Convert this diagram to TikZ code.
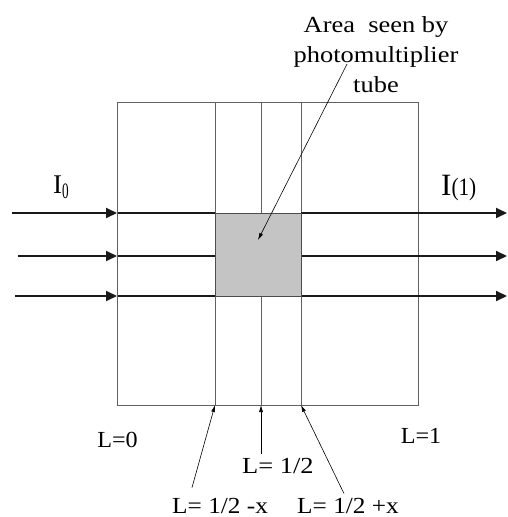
\documentclass[tikz,border=0pt]{standalone}
\usepackage{fontspec}
\usepackage{graphicx}
\setmainfont{Liberation Serif}
\usetikzlibrary{arrows.meta, positioning, calc}
\newcommand{\wide}[1]{\scalebox{1.15}[1]{#1}}
\tikzset{
  wall/.style={draw=black!62, line width=0.9pt},
  beam/.style={draw=black!90, line width=2pt},
  beamtip/.style={beam, -{Triangle[length=11pt, width=10pt]}},
  spot/.style={rectangle, draw=black!70, line width=0.9pt, fill=black!23,
               minimum width=86pt, minimum height=83pt, inner sep=0pt},
  ptr/.style={-{Latex[length=7pt, width=4pt]}, line width=0.6pt},
  lbl/.style={font=\fontsize{23}{30}\selectfont, inner sep=0pt}
}

\begin{document}
\begin{tikzpicture}[x=1pt, y=-1pt]
\useasboundingbox (0,0) rectangle (508,517);
% sample and the slices at 1/2-x, 1/2, 1/2+x
\draw[wall] (117,102) rectangle (418,405);
\foreach \xs/\nm in {215/lo, 261/mid, 301/hi}
  \draw[wall] (\xs,102) -- (\xs,405) coordinate (\nm);
% light beams
\foreach \ys/\xa in {213/12, 256/18, 296/15}{
  \draw[beamtip] (\xa,\ys) -- (117,\ys);
  \draw[beam] (118,\ys) -- (215,\ys);
  \draw[beamtip] (301,\ys) -- (507,\ys);
}
\node[spot] (pmt) at (258,254.5) {};
\coordinate (aim) at (258,240);
% labels
\node[lbl, align=center, anchor=north] (area) at (376,16.5)
  {\wide{Area\ \ seen by}\\\wide{photomultiplier}\\\wide{tube}};
\node[lbl, anchor=base west] (Iin) at (53,193)
  {\fontsize{27}{27}\selectfont I\raisebox{-5pt}{\scalebox{0.6}[1]{\fontsize{22}{22}\selectfont 0}}};
\node[lbl, anchor=base west] (Iout) at (441,195)
  {\fontsize{31}{31}\selectfont I\scalebox{0.85}[1]{\fontsize{25}{25}\selectfont(1)}};
\node[lbl, anchor=base] (lzero) at (117.5,447) {\scalebox{1.05}[1]{L=0}};
\node[lbl, anchor=base] (lone) at (421,443) {\scalebox{1.05}[1]{L=1}};
\node[lbl, anchor=base west] (lhalf) at (242,473) {\wide{L= 1/2}};
\node[lbl, anchor=base west] (lminus) at (172,513) {\scalebox{1.1}[1]{L= 1/2 -x}};
\node[lbl, anchor=base west] (lplus) at (297,513) {\scalebox{1.1}[1]{L= 1/2 +x}};
% pointers
\draw[ptr] ($(area.south)+(-29,-29)$) -- (aim);
\draw[ptr] ($(lminus.north west)+(20,-10)$) -- (lo);
\draw[ptr] ($(lhalf.north west)+(19,-4)$) -- (mid);
\draw[ptr] ($(lplus.north west)+(47,-4)$) -- (hi);
\end{tikzpicture}
\end{document}
